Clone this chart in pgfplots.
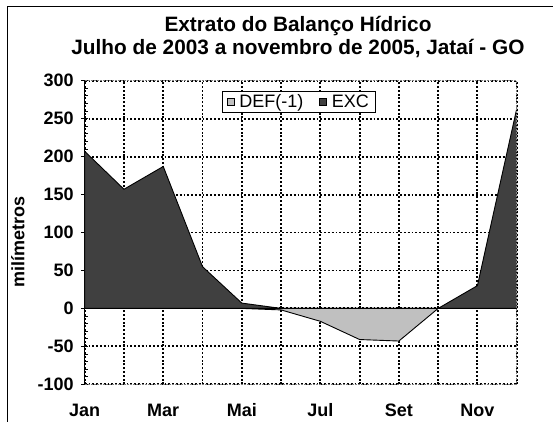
\documentclass[border=0pt]{standalone}
\usepackage{pgfplots}
\pgfplotsset{compat=1.18}
\usepackage{fontspec}
\setmainfont{Liberation Sans}
\definecolor{exc}{RGB}{64,64,64}
\definecolor{def}{RGB}{192,192,192}
\begin{document}
\begin{tikzpicture}[x=1pt,y=1pt]
\useasboundingbox (0,0) rectangle (553,421);
\draw[line width=1pt] (7,-5) -- (7,414) -- (560,414);
\node[font=\bfseries\fontsize{20.8}{24}\selectfont, anchor=base] at (298,389) {Extrato do Balanço Hídrico};
\node[font=\bfseries\fontsize{20.8}{24}\selectfont, anchor=base] at (298,366.7) {Julho de 2003 a novembro de 2005, Jataí - GO};
\begin{axis}[
  at={(84.7pt,36.7pt)}, anchor=south west,
  scale only axis, width=432pt, height=303.6pt,
  xmin=0, xmax=11, ymin=-100, ymax=300,
  xtick={0,...,11},
  xticklabels={Jan,,Mar,,Mai,,Jul,,Set,,Nov,},
  ytick={-100,-50,...,300},
  minor y tick num=4,
  major x tick style={draw=none},
  x tick label style={anchor=base, yshift=-32.3pt},
  y tick label style={xshift=-4pt},
  tick label style={font=\bfseries\fontsize{18}{20}\selectfont},
  /pgf/number format/assume math mode=true,
  ytick align=center,
  major tick length=7pt, minor tick length=3pt,
  minor y tick style={xshift=1.5pt},
  tick style={black, line width=0.8pt},
  ymajorgrids, xmajorgrids,
  major grid style={black, line width=1.9pt, dash pattern=on 1.9pt off 1.9pt},
  axis x line*=bottom, axis y line*=left,
  x axis line style={draw=gray, line width=1.3pt, dash pattern=on 2pt off 1pt},
  y axis line style={black, line width=1pt},
  ylabel={milímetros},
  ylabel style={font=\bfseries\fontsize{18}{20}\selectfont, at={(axis description cs:-0.155,0.47)}, anchor=center},
  legend style={at={(0.4956,0.967)}, anchor=north, legend columns=2,
    draw=black, line width=0.7pt, fill=white,
    inner xsep=4pt, inner ysep=1.5pt,
    font=\fontsize{18}{20}\selectfont,
    /tikz/every odd column/.append style={column sep=3pt},
    /tikz/every even column/.append style={column sep=14pt}},
  legend image code/.code={\draw[#1, line width=0.6pt] (0pt,-3pt) rectangle (7pt,4pt);},
  clip=false,
]
\addplot[fill=def, draw=black, line width=0.9pt] coordinates {
(0,0) (1,0) (2,0) (3,0) (4,0) (5,-2) (6,-17) (7,-41) (8,-43) (9,0) (10,0) (11,0)} \closedcycle;
\addlegendentry{DEF(-1)}
\addplot[fill=exc, draw=black, line width=0.9pt] coordinates {
(0,207) (1,157) (2,187) (3,55) (4,7) (5,0) (6,0) (7,0) (8,0) (9,0) (10,30) (11,263)} \closedcycle;
\addlegendentry{EXC}
\draw[black, line width=1pt] (axis cs:0,0) -- (axis cs:11,0);
\draw[gray, line width=1.3pt, dash pattern=on 2pt off 1pt] (axis cs:0,300) -- (axis cs:11,300) -- (axis cs:11,-100);
\end{axis}
\end{tikzpicture}
\end{document}
